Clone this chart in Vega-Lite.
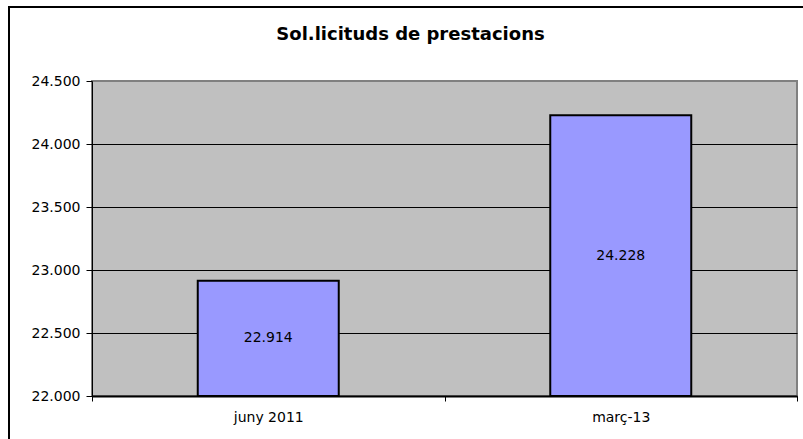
{
  "$schema": "https://vega.github.io/schema/vega-lite/v6.json",
  "autosize": {"type": "none"},
  "width": 705,
  "height": 315,
  "padding": {"left": 92, "top": 81, "right": 6, "bottom": 43},
  "background": "white",
  "title": {
    "text": "Sol.licituds de prestacions",
    "font": "DejaVu Sans",
    "fontSize": 18,
    "fontWeight": "bold",
    "color": "black",
    "anchor": "middle",
    "frame": "group",
    "baseline": "alphabetic",
    "offset": 0,
    "dx": -34,
    "dy": 52
  },
  "data": {
    "values": [
      {"periode": "juny 2011", "sollicituds": 22914},
      {"periode": "març-13", "sollicituds": 24228}
    ]
  },
  "config": {
    "view": {"fill": "#C0C0C0", "stroke": "#808080", "strokeWidth": 2},
    "axis": {"labelFont": "DejaVu Sans", "labelFontSize": 14, "labelColor": "black"}
  },
  "layer": [
    {
      "data": {"values": [{"frame": 1}]},
      "mark": {"type": "rect", "fill": null, "fillOpacity": 0, "stroke": "black", "strokeWidth": 2, "clip": false},
      "encoding": {
        "x": {"value": -83},
        "y": {"value": -74},
        "x2": {"value": 760},
        "y2": {"value": 400}
      }
    },
    {
      "mark": {"type": "bar", "width": {"band": 0.4}, "color": "#9999FF", "stroke": "black", "strokeWidth": 2},
      "encoding": {
        "x": {
          "field": "periode",
          "type": "nominal",
          "sort": null,
          "scale": {"paddingInner": 0, "paddingOuter": 0},
          "axis": {
            "title": null,
            "labelAngle": 0,
            "tickBand": "extent",
            "tickSize": 5,
            "tickColor": "black",
            "domainColor": "black",
            "domainWidth": 2,
            "labelPadding": 9,
            "grid": false
          }
        },
        "y": {
          "field": "sollicituds",
          "type": "quantitative",
          "scale": {"domain": [22000, 24500], "nice": false, "zero": false},
          "axis": {
            "title": null,
            "values": [22000, 22500, 23000, 23500, 24000, 24500],
            "labelExpr": "replace(format(datum.value, ','), ',', '.')",
            "grid": true,
            "gridColor": {"condition": {"test": "datum.value >= 24500", "value": "#808080"}, "value": "black"},
            "gridWidth": 1,
            "domainColor": "black",
            "domainWidth": 1,
            "tickColor": "black",
            "tickSize": 6,
            "labelPadding": 6
          }
        },
        "y2": {"datum": 22000}
      }
    },
    {
      "transform": [
        {"calculate": "(datum.sollicituds + 22000) / 2", "as": "mig"},
        {"calculate": "replace(format(datum.sollicituds, ','), ',', '.')", "as": "etiqueta"}
      ],
      "mark": {"type": "text", "font": "DejaVu Sans", "fontSize": 14, "color": "black", "baseline": "middle", "align": "center"},
      "encoding": {
        "x": {"field": "periode", "type": "nominal", "sort": null},
        "y": {"field": "mig", "type": "quantitative"},
        "text": {"field": "etiqueta", "type": "nominal"}
      }
    }
  ]
}
